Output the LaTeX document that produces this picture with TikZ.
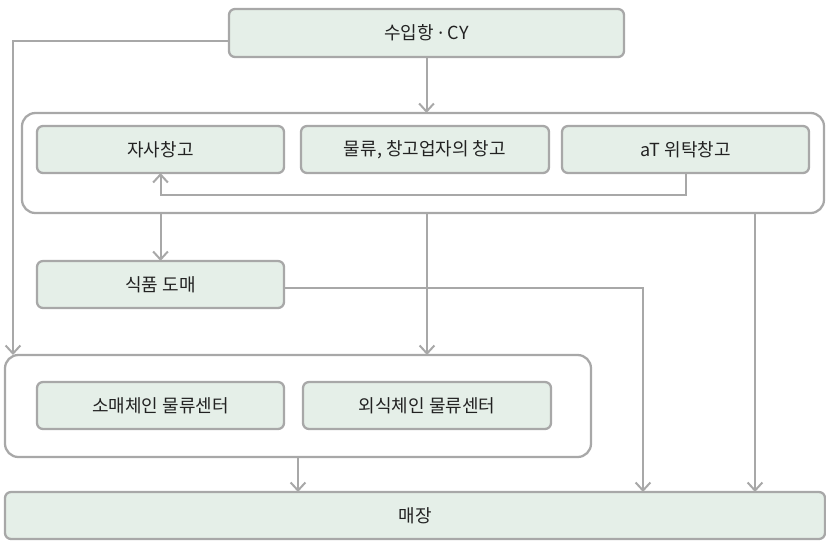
\documentclass[tikz,border=0pt]{standalone}
\usepackage{fontspec}
\setmainfont{Noto Sans CJK KR}
\newfontfamily\latinfont{Noto Sans}
\usetikzlibrary{arrows.meta}
\definecolor{lineg}{HTML}{A8A8A8}
\definecolor{boxfill}{HTML}{E5EFE8}
\definecolor{txt}{HTML}{222222}
\tikzset{
  box/.style={draw=lineg, line width=1.7pt, fill=boxfill, rounded corners=4.5pt,
    inner sep=0pt, outer sep=0pt, text=txt, font=\fontsize{13.5pt}{16pt}\selectfont},
  group/.style={draw=lineg, line width=1.7pt, fill=white, rounded corners=10pt, inner sep=0pt, outer sep=0pt},
  arr/.style={draw=lineg, line width=1.5pt, -{Straight Barb[length=6pt,width=11pt,line width=1.5pt]}},
  ln/.style={draw=lineg, line width=1.5pt}
}
\begin{document}
\begin{tikzpicture}[x=0.75pt,y=-0.75pt]
\useasboundingbox (0,0) rectangle (826,540);
% groups
\node[group, minimum width=601.5pt, minimum height=75pt] (box1) at (423,163) {};
\node[group, minimum width=439.5pt, minimum height=76.5pt] (box2) at (298,406) {};
% nodes
\node[box, minimum width=296.25pt, minimum height=36pt] (top) at (426.5,33) {수입항{\latinfont\ ·\ }CY};
\node[box, minimum width=185.25pt, minimum height=35.25pt] (w1) at (160.5,149.5) {자사창고};
\node[box, minimum width=186pt, minimum height=35.25pt] (w2) at (425,149.5) {물류, 창고업자의 창고};
\node[box, minimum width=185.25pt, minimum height=35.25pt] (w3) at (685.5,149.5) {aT 위탁창고};
\node[box, minimum width=185.25pt, minimum height=35.25pt] (whole) at (160.5,284.5) {식품 도매};
\node[box, minimum width=185.25pt, minimum height=35.25pt] (r1) at (160.5,405.5) {소매체인 물류센터};
\node[box, minimum width=186pt, minimum height=35.25pt] (r2) at (427,405.5) {외식체인 물류센터};
\node[box, minimum width=615pt, minimum height=35.25pt] (store) at (415,515.5) {매장};
% helper coordinates
\coordinate (ret) at (300,195);
\coordinate (leftx) at (13,0);
\coordinate (wx) at (643,0);
\coordinate (ax) at (755,0);
% connectors
\draw[arr] ([yshift=-6pt]top.west) -| (leftx |- box2.north);
\draw[arr] (top.south) -- (top.south |- box1.north);
\draw[arr] (w3.south) |- (ret) -| (w1.south);
\draw[arr] (w1.south |- box1.south) -- (whole.north);
\draw[arr] ([yshift=-2.5pt]whole.east) -| (wx |- store.north);
\draw[arr] (r2.north |- box1.south) -- (r2.north |- box2.north);
\draw[arr] (ax |- box1.south) -- (ax |- store.north);
\draw[arr] (box2.south) -- (box2.south |- store.north);
\end{tikzpicture}
\end{document}
